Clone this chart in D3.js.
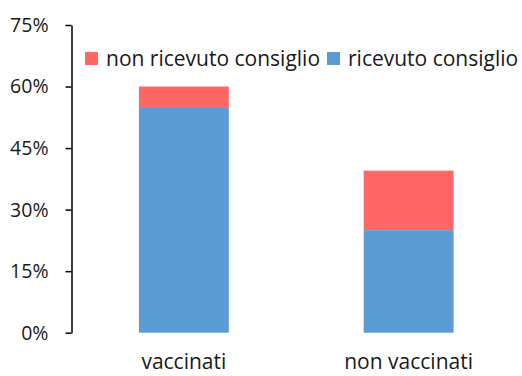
<!DOCTYPE html>
<html>
<head>
<meta charset="utf-8">
<script src="https://cdn.jsdelivr.net/npm/d3@7"></script>
<style>
  html, body { margin: 0; padding: 0; background: #fff; }
  svg { display: block; }
  text { font-family: "Open Sans", Lato, sans-serif; fill: #1a1a1a; }
</style>
</head>
<body>
<script>
// Share of respondents by vaccination status, split by whether they received advice
const categories = ["vaccinati", "non vaccinati"];
const seriesNames = ["ricevuto consiglio", "non ricevuto consiglio"];
const ricevuto = [55, 25];
const nonRicevuto = [5, 14.5];
const yTicks = [0, 15, 30, 45, 60, 75];
const colors = ["#5B9BD5", "#FF6666"];

const W = 522, H = 376;
const svg = d3.select("body").append("svg").attr("width", W).attr("height", H);

const x = d3.scaleBand().domain(categories).range([71.5, 521]).paddingInner(0.6).paddingOuter(0.3);
const y = d3.scaleLinear().domain([0, 75]).range([332.7, 25]);

const rows = categories.map((c, i) => ({ cat: c, "ricevuto consiglio": ricevuto[i], "non ricevuto consiglio": nonRicevuto[i] }));
const stacked = d3.stack().keys(seriesNames)(rows);

svg.append("g").selectAll("g").data(stacked).join("g")
  .attr("fill", (d, i) => colors[i])
  .selectAll("rect").data(d => d).join("rect")
  .attr("x", d => x(d.data.cat))
  .attr("width", x.bandwidth())
  .attr("y", d => y(d[1]))
  .attr("height", d => y(d[0]) - y(d[1]));

// y axis
const yAxis = svg.append("g").attr("transform", "translate(71.5,0)")
  .call(d3.axisLeft(y).tickValues(yTicks).tickFormat(d => d + "%").tickSize(6).tickSizeOuter(0));
yAxis.select(".domain").attr("stroke", "#000").attr("stroke-width", 1.5);
yAxis.selectAll(".tick line").attr("stroke", "#000").attr("stroke-width", 1.5);
yAxis.selectAll(".tick text").attr("x", -23).attr("dy", "0.33em")
  .style("font-family", "'Open Sans', Lato, sans-serif").style("font-size", "19.5px").attr("fill", "#1a1a1a");

// category labels
svg.append("g").selectAll("text").data(categories).join("text")
  .attr("x", d => x(d) + x.bandwidth() / 2)
  .attr("y", 369)
  .attr("text-anchor", "middle")
  .style("font-size", "21px")
  .text(d => d);

// legend
const legendItems = [
  { name: seriesNames[1], color: colors[1], x: 85 },
  { name: seriesNames[0], color: colors[0], x: 327 }
];
const lg = svg.append("g").selectAll("g").data(legendItems).join("g")
  .attr("transform", d => `translate(${d.x},52)`);
lg.append("rect").attr("width", 13).attr("height", 13).attr("fill", d => d.color);
lg.append("text").attr("x", 21).attr("y", 14).style("font-size", "21px").text(d => d.name);
</script>
</body>
</html>
